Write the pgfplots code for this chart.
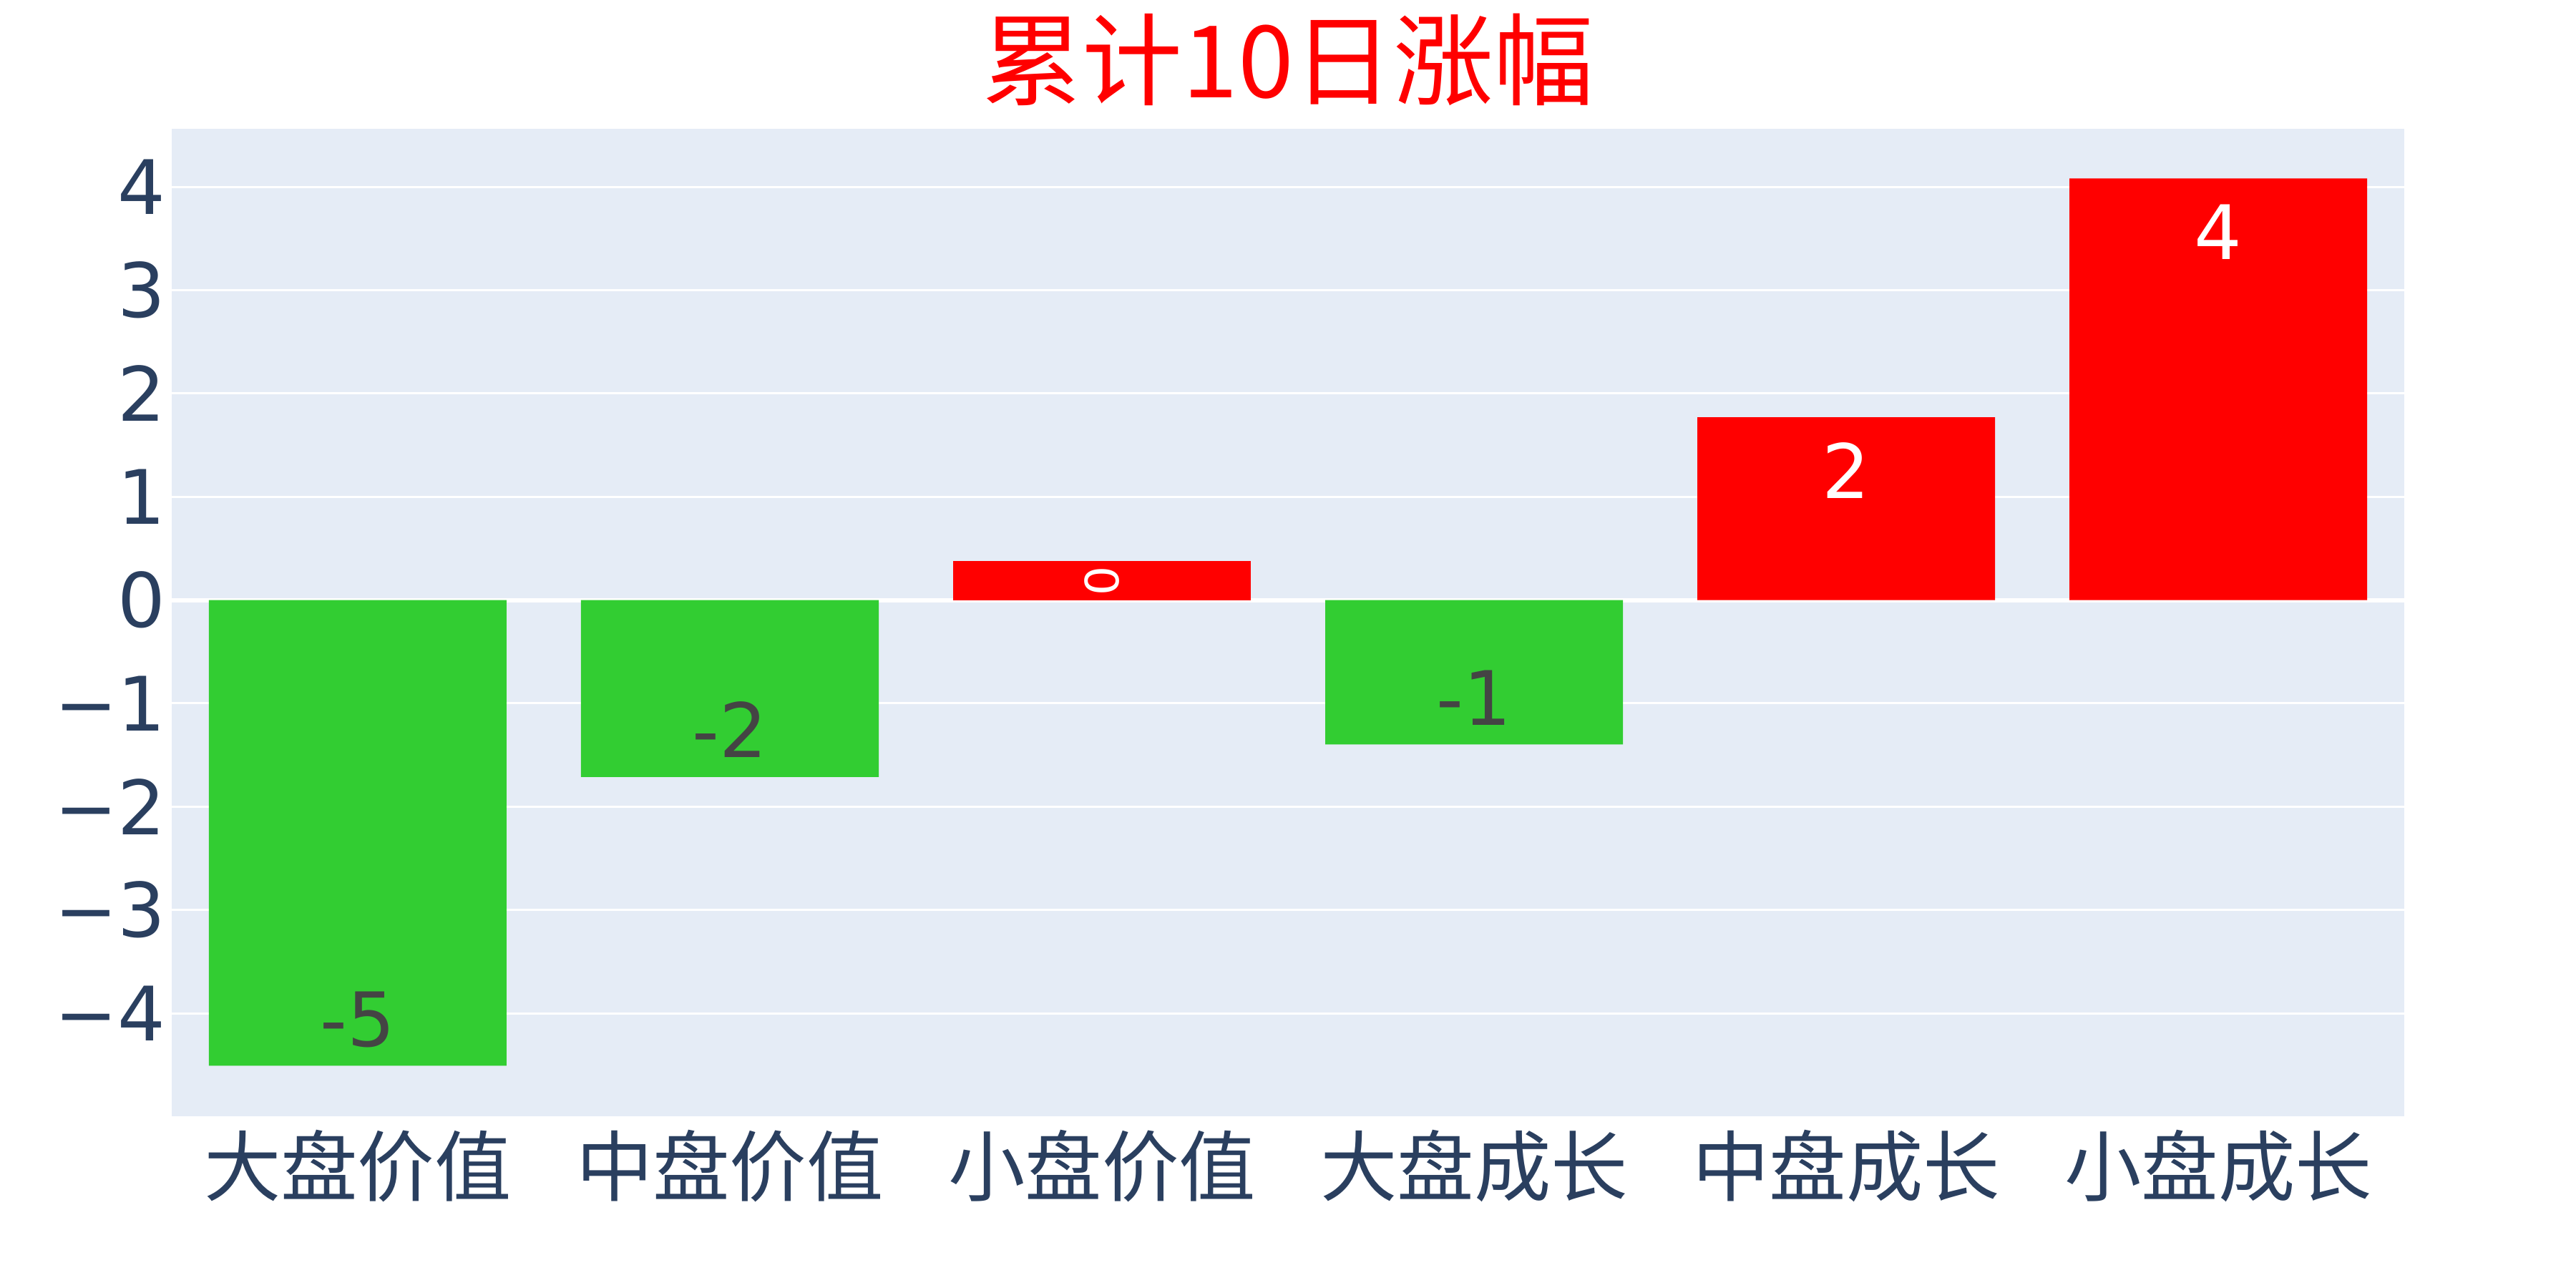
\documentclass[border=0pt]{standalone}
\usepackage{fontspec}
\setmainfont{DejaVu Sans}
\newfontfamily\cjk{Noto Sans CJK SC}
\usepackage{pgfplots}
\pgfplotsset{compat=1.18}
\definecolor{bgc}{HTML}{E5ECF6}
\definecolor{tickc}{HTML}{2A3F5F}
\definecolor{barred}{HTML}{FF0000}
\definecolor{bargreen}{HTML}{32CD32}
\definecolor{lblgray}{HTML}{444444}
\begin{document}
\begin{tikzpicture}
\begin{axis}[
  scale only axis, width=624.1bp, height=276.1bp,
  xmin=-0.5, xmax=5.5, ymin=-4.996, ymax=4.565,
  axis background/.style={fill=bgc},
  axis line style={draw=none},
  major tick length=0pt,
  tick style={draw=none},
  xtick={0,...,5},
  xticklabels={大盘价值,中盘价值,小盘价值,大盘成长,中盘成长,小盘成长},
  xticklabel style={font=\cjk\fontsize{21.5bp}{21.5bp}\selectfont, text=tickc, anchor=north, inner sep=0pt, yshift=-3.6bp},
  ytick={-4,...,4},
  yticklabels={−4,−3,−2,−1,0,1,2,3,4},
  yticklabel style={font=\fontsize{21bp}{21bp}\selectfont, text=tickc, anchor=east, inner sep=0pt, xshift=-1.6bp},
  ymajorgrids, grid style={white, line width=0.6bp},
  extra y ticks={0}, extra y tick labels={}, extra y tick style={grid style={white, line width=1.2bp}},
  title={\cjk 累计10日涨幅},
  title style={font=\fontsize{28bp}{28bp}\selectfont, text=barred, at={(0.5,1)}, anchor=center, yshift=13.3bp, inner sep=0pt},
  ybar, bar width=0.8, bar shift=0pt,
  clip=false,
]
\addplot[fill=bargreen, draw=none, nodes near coords, point meta=explicit symbolic,
  nodes near coords style={text=lblgray, font=\fontsize{21bp}{21bp}\selectfont, anchor=base, yshift=5.4bp, inner sep=0pt}]
  coordinates {(0,-4.507)[-5] (1,-1.712)[-2] (3,-1.398)[-1]};
\addplot[fill=barred, draw=none, nodes near coords, point meta=explicit symbolic,
  nodes near coords style={text=white, font=\fontsize{21bp}{21bp}\selectfont, anchor=base, yshift=-22.6bp, inner sep=0pt}]
  coordinates {(4,1.770)[2] (5,4.081)[4]};
\addplot[fill=barred, draw=none, nodes near coords, point meta=explicit symbolic,
  nodes near coords style={text=white, font=\fontsize{12.9bp}{12.9bp}\selectfont, yshift=-5.5bp, anchor=center, rotate=90, inner sep=0pt}]
  coordinates {(2,0.377)[0]};
\end{axis}
\pgfresetboundingbox
\path ([shift={(-48bp,-47.96bp)}]current axis.south west) rectangle ([shift={(48bp,35.92bp)}]current axis.north east);
\end{tikzpicture}
\end{document}
